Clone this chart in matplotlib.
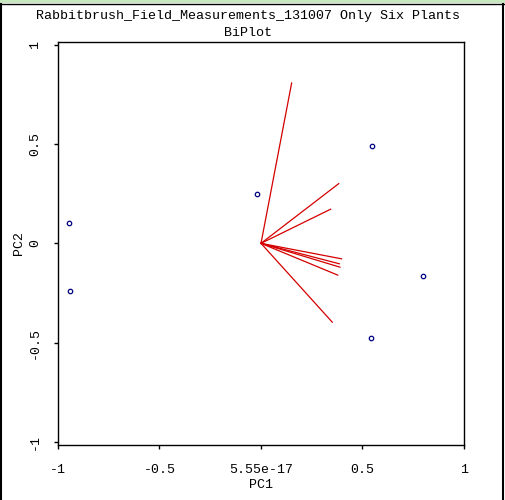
import matplotlib
matplotlib.use("Agg")
import matplotlib.pyplot as plt
from matplotlib.lines import Line2D
from matplotlib.patches import Rectangle

# scores of the six plants (PC1, PC2)
pc1_scores = [-0.946, -0.941, -0.021, 0.547, 0.798, 0.542]
pc2_scores = [0.105, -0.238, 0.251, 0.488, -0.167, -0.475]

# loadings of the measured variables
load_pc1 = [0.151, 0.383, 0.343, 0.397, 0.386, 0.389, 0.378, 0.351]
load_pc2 = [0.808, 0.301, 0.172, -0.078, -0.103, -0.120, -0.160, -0.397]

xticks = [-1, -0.5, 0, 0.5, 1]
xtick_labels = ['-1', '-0.5', '5.55e-17', '0.5', '1']
yticks = [-1, -0.5, 0, 0.5, 1]
ytick_labels = ['-1', '-0.5', '0', '0.5', '1']

mono = 'Liberation Mono'

fig = plt.figure(figsize=(5.06, 5.0), dpi=100)
ax = fig.add_axes([58/506, 1 - 445/500, (464 - 58)/506, (445 - 41.7)/500])

for lx, ly in zip(load_pc1, load_pc2):
    ax.plot([0, lx], [0, ly], color='#d40000', lw=0.9)

ax.plot(pc1_scores, pc2_scores, linestyle='none', marker='o', markersize=3.2,
        markerfacecolor='white', markeredgecolor='#000080', markeredgewidth=0.9)

ax.set_xlim(-1, 1)
ax.set_ylim(-1.016, 1.016)
ax.set_xticks(xticks)
ax.set_xticklabels(xtick_labels, fontfamily=mono, fontsize=9.5)
ax.set_yticks(yticks)
ax.set_yticklabels(ytick_labels, fontfamily=mono, fontsize=9.5, rotation=90, va='center')
ax.tick_params(direction='out', length=3, width=1, color='black', pad=11)
ax.tick_params(axis='y', pad=9)

for s in ax.spines.values():
    s.set_linewidth(1)
    s.set_color('black')

ax.set_xlabel('PC1', fontfamily=mono, fontsize=9.5, labelpad=2)
ax.set_ylabel('PC2', fontfamily=mono, fontsize=9.5, labelpad=3)

cx = 248.5 / 506
fig.text(cx, 1 - 16/500, 'Rabbitbrush_Field_Measurements_131007 Only Six Plants',
         ha='center', va='center', fontfamily=mono, fontsize=9.6)
fig.text(cx, 1 - 33/500, 'BiPlot', ha='center', va='center',
         fontfamily=mono, fontsize=9.6)

# window frame around the picture
fig.patches.append(Rectangle((0, 1 - 3/500), 1, 3/500, transform=fig.transFigure,
                             facecolor='#c8e6c0', edgecolor='none'))
fig.lines.append(Line2D([0, 1], [1 - 3.5/500, 1 - 3.5/500], transform=fig.transFigure,
                        color='black', lw=1))
fig.lines.append(Line2D([1/506, 1/506], [0, 1 - 3.5/500], transform=fig.transFigure,
                        color='black', lw=1.5))
fig.lines.append(Line2D([503.5/506, 503.5/506], [0, 1 - 3.5/500], transform=fig.transFigure,
                        color='black', lw=1.5))

fig.savefig('out.png', dpi=100)
